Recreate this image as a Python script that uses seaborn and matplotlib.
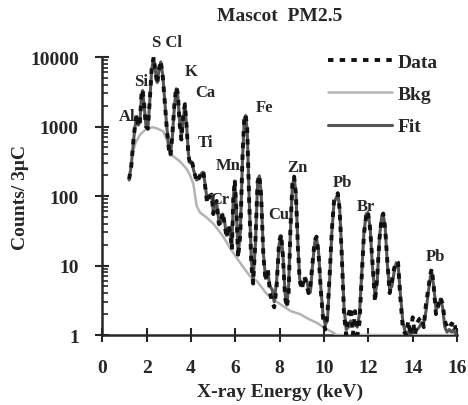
import numpy as np
import pandas as pd
import seaborn as sns
import matplotlib.pyplot as plt
from matplotlib.ticker import LogLocator, NullFormatter

# spectrum (keV, counts per 3 uC)
energia = [1.20, 1.30, 1.40, 1.47, 1.54, 1.62, 1.69, 1.76, 1.81, 1.88, 1.96, 2.05,
           2.13, 2.22, 2.31, 2.40, 2.47, 2.55, 2.63, 2.72, 2.80, 2.90, 3.00, 3.07,
           3.15, 3.25, 3.33, 3.40, 3.48, 3.56, 3.64, 3.72, 3.80, 3.88, 3.95, 4.03,
           4.12, 4.25, 4.38, 4.48, 4.55, 4.63, 4.72, 4.83, 4.93, 5.00, 5.08, 5.15,
           5.25, 5.33, 5.42, 5.50, 5.60, 5.70, 5.77, 5.84, 5.90, 5.97, 6.04, 6.12,
           6.22, 6.32, 6.40, 6.46, 6.53, 6.62, 6.72, 6.80, 6.90, 7.00, 7.08, 7.16,
           7.26, 7.36, 7.46, 7.56, 7.66, 7.75, 7.86, 7.97, 8.06, 8.14, 8.24, 8.32,
           8.40, 8.48, 8.57, 8.65, 8.73, 8.82, 8.90, 9.00, 9.10, 9.20, 9.30, 9.38,
           9.48, 9.58, 9.66, 9.75, 9.85, 9.95, 10.05, 10.15, 10.25, 10.35, 10.45, 10.55,
           10.62, 10.70, 10.80, 10.90, 11.00, 11.10, 11.20, 11.30, 11.40, 11.50, 11.60, 11.70,
           11.80, 11.90, 11.98, 12.08, 12.18, 12.30, 12.40, 12.50, 12.60, 12.67, 12.76, 12.86,
           12.96, 13.06, 13.16, 13.26, 13.34, 13.44, 13.56, 13.70, 13.80, 13.90, 14.00, 14.10,
           14.20, 14.30, 14.40, 14.50, 14.60, 14.70, 14.80, 14.86, 14.95, 15.05, 15.15, 15.25,
           15.35, 15.45, 15.55, 15.65, 15.75, 15.85, 15.95]

ajuste = [170, 280, 620, 1000, 1400, 1050, 1200, 2800, 3300, 2000, 1050, 950,
          2200, 6500, 9800, 6000, 4300, 6500, 8500, 5500, 2600, 1000, 480, 390,
          700, 2000, 3500, 2800, 1200, 700, 1300, 2000, 1000, 400, 300, 310,
          230, 170, 180, 215, 220, 150, 88, 95, 100, 60, 75, 80,
          45, 40, 55, 45, 27, 35, 30, 18, 90, 165, 70, 14,
          30, 350, 1300, 1440, 900, 90, 12, 6, 20, 150, 195, 110,
          15, 6.5, 8, 5, 4.5, 3, 6, 20, 27, 15, 4, 2.7,
          5, 30, 140, 186, 110, 20, 6.4, 5.1, 6, 6.4, 4.5, 4.1,
          10, 22, 25, 16, 5, 2, 1.4, 1.6, 6, 30, 80, 95,
          107, 70, 15, 2.5, 1.2, 1.3, 1.6, 1.4, 1.5, 1.3, 2, 8,
          30, 55, 58, 35, 10, 3.7, 6, 25, 50, 55, 35, 10,
          4.6, 5, 8, 11, 10.5, 4, 1.5, 1, 1.1, 1, 1.2, 1.1,
          1.2, 1.3, 1.5, 1.5, 2.2, 4, 7, 8, 5, 2.4, 2.5, 3.3,
          2.5, 1.3, 1.1, 1.2, 1.1, 1.2, 1]

datos = [175, 270, 650, 1050, 1500, 1000, 1150, 2900, 3400, 2100, 1000, 930,
         2300, 6800, 10000, 5800, 4100, 6700, 8800, 5200, 2500, 950, 460, 380,
         750, 2200, 3700, 3000, 1100, 650, 1400, 2100, 950, 380, 290, 320,
         240, 160, 190, 225, 230, 140, 80, 100, 105, 55, 80, 85,
         40, 38, 58, 42, 25, 38, 28, 17, 85, 170, 65, 13,
         28, 380, 1350, 1480, 950, 85, 10, 5.5, 22, 160, 200, 100,
         14, 6, 9, 4, 3, 2.5, 5, 22, 28, 14, 3.5, 2.5,
         4, 32, 150, 190, 105, 18, 6, 4.5, 7, 5.5, 4, 5,
         11, 23, 26, 15, 4.5, 1.8, 1.2, 2, 7, 32, 85, 100,
         110, 65, 14, 2, 1, 2, 2.5, 1, 2.2, 1, 1.5, 7,
         28, 52, 60, 33, 12, 3, 7, 24, 48, 56, 33, 11,
         4, 6, 9, 11.5, 11, 3.5, 1.2, 1, 1.6, 1, 1.8, 1,
         1.5, 1.7, 1.8, 1.3, 2.8, 4.5, 7.5, 9, 5, 2, 2.7, 3.5,
         2.8, 1.6, 1.3, 1.5, 1.4, 1.6, 1.2]

energia_fondo = [1.37, 1.50, 1.69, 1.90, 2.10, 2.29, 2.50, 2.74, 2.90, 3.05, 3.25, 3.42,
                 3.60, 3.80, 3.95, 4.10, 4.25, 4.40, 4.70, 5.00, 5.15, 5.45, 5.75, 6.05,
                 6.35, 6.66, 6.96, 7.41, 7.80, 8.16, 8.50, 8.91, 9.30, 9.67, 10.05, 10.42,
                 10.57, 16.0]
fondo = [430, 590, 760, 880, 950, 975, 930, 850, 650, 420, 360, 330,
         290, 245, 200, 150, 72, 58, 49, 40, 35, 26, 18, 13,
         9.5, 7, 6, 3.9, 3.1, 2.6, 2.2, 2.0, 1.7, 1.5, 1.25, 1.08,
         1.0, 1.0]

elementos = ["S Cl", "Si", "Al", "K", "Ca", "Ti", "Mn", "Cr", "Fe", "Zn", "Cu", "Pb", "Br", "Pb"]
pos_elementos = [(2.91, 16500), (1.74, 4470), (1.10, 1410), (4.0, 6300), (4.63, 3160),
                 (4.63, 600), (5.66, 282), (5.30, 91), (7.33, 1900), (8.82, 263),
                 (7.97, 55), (10.85, 158), (11.89, 72), (15.01, 13.8)]

sns.set_style("ticks")
plt.rcParams['font.family'] = ['Liberation Serif', 'DejaVu Serif']
plt.rcParams['font.weight'] = 'bold'

espectro = pd.DataFrame({"E": energia, "Data": datos, "Fit": ajuste})
bkg = pd.DataFrame({"E": energia_fondo, "Bkg": fondo})

fig = plt.figure(figsize=(4.68, 4.06), dpi=100)
ax = fig.add_axes([0.219, 0.1724, 0.7575, 0.6846])

sns.lineplot(data=espectro, x="E", y="Data", ax=ax, color="#111111", lw=2.8,
             label="Data", zorder=5)
ax.lines[-1].set_dashes((1.4, 1.6))
sns.lineplot(data=bkg, x="E", y="Bkg", ax=ax, color="#b4b4b4", lw=1.8,
             label="Bkg", zorder=3)
sns.lineplot(data=espectro, x="E", y="Fit", ax=ax, color="#555555", lw=2.2,
             label="Fit", zorder=4)

ax.set_yscale("log")
ax.set_xlim(0, 16)
ax.set_ylim(1, 10000)
ax.set_xticks(range(0, 17, 2))
ax.set_yticks([1, 10, 100, 1000, 10000])
ax.set_yticklabels(["1", "10", "100", "1000", "10000"])
ax.yaxis.set_minor_locator(LogLocator(base=10, subs=np.arange(2, 10)))
ax.yaxis.set_minor_formatter(NullFormatter())
ax.tick_params(axis="both", which="major", direction="inout", length=10, width=1.5,
               labelsize=14, pad=12)
ax.tick_params(axis="y", which="minor", direction="in", length=4, width=1.2)
for lab in ax.get_xticklabels() + ax.get_yticklabels():
    lab.set_fontweight("bold")
sns.despine(ax=ax)
for s in ["left", "bottom"]:
    ax.spines[s].set_linewidth(1.8)

ax.set_xlabel("X-ray Energy (keV)", fontsize=14, fontweight="bold", labelpad=5)
ax.set_ylabel("Counts/ 3\u03bcC", fontsize=14, fontweight="bold", labelpad=1)
ax.set_title("Mascot  PM2.5", fontsize=14, fontweight="bold", pad=27)

for nombre, (xe, ye) in zip(elementos, pos_elementos):
    ax.text(xe, ye, nombre, fontsize=12, fontweight="bold", ha="center", va="center",
            zorder=6)

leg = ax.legend(loc="upper left", bbox_to_anchor=(0.586, 1.076), frameon=False,
                handlelength=3.3, handletextpad=0.3, labelspacing=0.75,
                prop={"size": 14, "weight": "bold"})

fig.savefig("out.png", dpi=100)
